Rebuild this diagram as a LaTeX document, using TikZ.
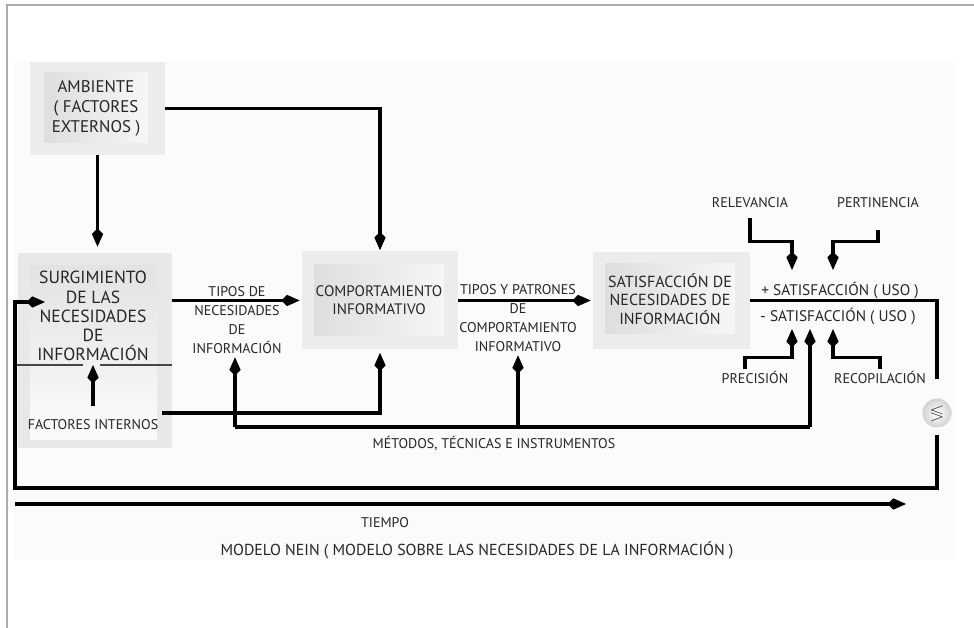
\documentclass[tikz,border=0pt]{standalone}
\usepackage{amssymb}
\usepackage{fontspec}
\setmainfont{PT Sans}
\usetikzlibrary{arrows.meta}

\newlength\px
\setlength\px{0.025cm}

\tikzset{
  outerbox/.style = {fill=gray!15, inner sep=0pt},
  innerbox/.style = {left color=gray!26, right color=gray!7, inner sep=0pt,
                     align=center, text=black!85, font=\fontsize{10.8}{13}\selectfont},
  tagtext/.style  = {align=center, text=black!85, inner sep=1pt,
                     font=\fontsize{10}{13.5}\selectfont},
  conn/.style     = {line width=2.2pt, black}
}

\begin{document}
\begin{tikzpicture}[x=0.025cm, y=-0.025cm]
                \useasboundingbox (0,0) rectangle (974,628);
                \fill[gray!3] (14,62) rectangle (956,560);
                \draw[gray!65, line width=1.4pt] (7,628) -- (7,5) -- (974,5);

                \begin{scope}[every node/.style = {outerbox}]
                    \node[minimum width=135\px, minimum height=93\px]  (ambO)  at (97.5, 108.5) {};
                    \node[minimum width=154\px, minimum height=195\px, fill=gray!18] (surgO) at (95, 350.5)  {};
                    \node[minimum width=156\px, minimum height=98\px]  (compO) at (380, 300.5)  {};
                    \node[minimum width=157\px, minimum height=97\px]  (satO)  at (671.5, 300.5) {};
                \end{scope}

                \begin{scope}[every node/.style = {innerbox}]
                    \node[minimum width=104\px, minimum height=70\px,
                          font=\fontsize{12}{14.2}\selectfont]          (amb)   at (96, 108)     {AMBIENTE\\( FACTORES\\EXTERNOS )};
                    \node[minimum width=127\px, minimum height=174\px,
                          top color=gray!22, bottom color=gray!3]      (surgI) at (93.5, 353)   {};
                    \node[minimum width=130\px, minimum height=71\px]  (comp)  at (379, 300.5)  {COMPORTAMIENTO\\INFORMATIVO};
                    \node[minimum width=130\px, minimum height=70\px,
                          font=\fontsize{11.4}{12.9}\selectfont]        (sat)   at (670, 299)    {SATISFACCIÓN DE\\NECESIDADES DE\\INFORMACIÓN};
                \end{scope}

                \node[align=center, text=black!85, font=\fontsize{12.5}{13.6}\selectfont]
                     (surg) at (93, 316) {SURGIMIENTO\\DE LAS\\NECESIDADES\\DE\\INFORMACIÓN};

                \begin{scope}[every node/.style = {tagtext}]
                    \node (tnec)   at (237, 320) {TIPOS DE\\NECESIDADES\\DE\\INFORMACIÓN};
                    \node (tpat)   at (518, 318) {TIPOS Y PATRONES\\DE\\COMPORTAMIENTO\\INFORMATIVO};
                    \node[font=\fontsize{10.9}{13}\selectfont] (plus)  at (840, 291) {+ SATISFACCIÓN ( USO )};
                    \node[font=\fontsize{10.9}{13}\selectfont] (minus) at (838, 317) {- SATISFACCIÓN ( USO )};
                    \node (rel)    at (750, 203) {RELEVANCIA};
                    \node (per)    at (878, 203) {PERTINENCIA};
                    \node (pre)    at (755, 377) {PRECISIÓN};
                    \node (rec)    at (880, 377) {RECOPILACIÓN};
                    \node (fint)   at (93, 425)  {FACTORES INTERNOS};
                    \node (met)    at (494, 443) {MÉTODOS, TÉCNICAS E INSTRUMENTOS};
                    \node (tiempo) at (385, 523) {TIEMPO};
                    \node[font=\fontsize{11.3}{13}\selectfont]
                          (cap)    at (477, 550) {MODELO NEIN ( MODELO SOBRE LAS NECESIDADES DE LA INFORMACIÓN )};
                \end{scope}

                \node[circle, minimum size=29\px, inner sep=0pt, inner color=white, outer color=gray!35,
                      text=black!85, font=\large] (cmp) at (937, 413) {$\lessgtr$};

                \coordinate (gap) at (92, 365);
                \coordinate (fiL) at (162, 413);
                \coordinate (mL)  at (235, 427);
                \coordinate (mR)  at (810, 427);
                \coordinate (t1)  at (792, 270);
                \coordinate (t2)  at (833, 270);
                \coordinate (b1)  at (792, 329);
                \coordinate (b2)  at (810, 329);
                \coordinate (b3)  at (833, 329);
                \coordinate (lpB) at (15, 488);
                \coordinate (lpT) at (45, 302);
                \coordinate (tA)  at (15, 504);
                \coordinate (tB)  at (906, 504);

                \draw[gray!55!black, line width=1.4pt] (15,365) -- (83,365) (100,365) -- (172,365);

                \begin{scope}[conn, >={Kite[length=13pt, width=8pt, inset=4pt]}]
                     \draw [->, shorten >=6\px] (ambO.south) -- (ambO.south |- surgO.north);
                     \draw [->, shorten >=1\px] (ambO.east) -| (compO.north);
                     \draw [->, shorten >=2\px] (surgO.east |- compO.west) -- (compO.west);
                     \draw [->, shorten >=2\px] (compO.east) -- (satO.west);
                     \draw [shorten >=19\px] (satO.east) -| (cmp.north);
                     \draw [->, shorten <=7\px] (cmp.south) |- (lpB) |- (lpT);
                     \draw [->, shorten <=12\px] (fint.north) -- (fint.north |- gap);
                     \draw [->, shorten >=3\px] (fiL) -| (compO.south);
                     \draw (mL) -- (mR);
                     \draw [->, shorten >=2\px] (mL) -- (mL |- tnec.south);
                     \draw [->, shorten >=2\px] (tpat.south |- mL) -- (tpat.south);
                     \draw [->] (mR) -- (b2);
                     \draw [->, shorten <=8\px] (rel.south) -- ++(0,32) -| (t1);
                     \draw [->, shorten <=20\px] (per.south) -- ++(0,32) -| (t2);
                     \draw [->] ([xshift=-10\px]pre.north) -- ++(0,-12) -| (b1);
                     \draw [->] (rec.north) -- ++(0,-12) -| (b3);
                     \draw [->] (tA) -- (tB);
                \end{scope}
            \end{tikzpicture}
\end{document}
